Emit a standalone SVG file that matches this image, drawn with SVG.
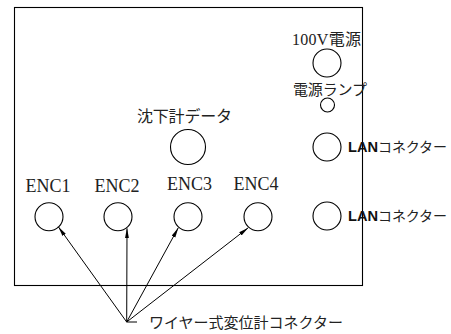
<svg xmlns="http://www.w3.org/2000/svg" width="451" height="334" viewBox="0 0 451 334">
<style>
.c{fill:none;stroke:#000;stroke-width:1.1}
.t{font-family:'Liberation Serif','Times New Roman','DejaVu Serif','Noto Sans CJK JP',serif;font-size:16px;fill:#222}
.j{font-family:'Liberation Serif','Noto Sans CJK JP',serif;font-size:14px;fill:#222}
.e{font-family:'Liberation Serif','Times New Roman','DejaVu Serif',serif;font-size:18px;fill:#222;text-anchor:middle}
.l{font-family:'Liberation Sans',Arial,sans-serif;font-size:15px;font-weight:bold;fill:#111}
.a{stroke:#000;stroke-width:1;fill:none;marker-end:url(#ah)}
</style>
<defs>
<marker id="ah" markerWidth="10" markerHeight="5" refX="10" refY="2.5" orient="auto" markerUnits="userSpaceOnUse">
<path d="M0,0.5 L10,2.5 L0,4.5 Z" fill="#000"/>
</marker>
</defs>
<rect id="panel" x="14.5" y="7.5" width="348" height="278" fill="none" stroke="#000" stroke-width="1.1"/>
<g id="power">
<text class="t" x="292" y="45" textLength="69">100V電源</text>
<circle class="c" cx="327" cy="63" r="14"/>
</g>
<g id="lamp">
<text class="t" x="293" y="95" textLength="74" style="font-size:15px">電源ランプ</text>
<circle class="c" cx="327.5" cy="105" r="7"/>
</g>
<g id="lan1">
<circle class="c" cx="327" cy="147" r="14"/>
<text class="l" x="348" y="152" textLength="30" lengthAdjust="spacingAndGlyphs">LAN</text>
<text class="j" x="378" y="152" textLength="69">コネクター</text>
</g>
<g id="lan2">
<circle class="c" cx="327" cy="216" r="14"/>
<text class="l" x="348" y="221" textLength="30" lengthAdjust="spacingAndGlyphs">LAN</text>
<text class="j" x="378" y="221" textLength="69">コネクター</text>
</g>
<g id="data">
<text class="t" x="137" y="122" textLength="95">沈下計データ</text>
<circle class="c" cx="188" cy="147" r="17.5"/>
</g>
<g id="enc1">
<text class="e" x="48" y="192">ENC1</text>
<circle class="c" cx="49" cy="216.7" r="14"/>
</g>
<g id="enc2">
<text class="e" x="117" y="192">ENC2</text>
<circle class="c" cx="118" cy="216.7" r="14"/>
</g>
<g id="enc3">
<text class="e" x="189.5" y="190">ENC3</text>
<circle class="c" cx="188" cy="216.7" r="14"/>
</g>
<g id="enc4">
<text class="e" x="256" y="190">ENC4</text>
<circle class="c" cx="258" cy="216.7" r="14"/>
</g>
<g id="connectors">
<line class="a" x1="126.7" y1="322" x2="58.3" y2="226.7"/>
<line class="a" x1="126.7" y1="322" x2="127" y2="228.3"/>
<line class="a" x1="126.7" y1="322" x2="178.3" y2="227.7"/>
<line class="a" x1="126.7" y1="322" x2="248.3" y2="227.7"/>
<line x1="126.7" y1="322" x2="137" y2="322" stroke="#000" stroke-width="1"/>
</g>
<g id="wire-label">
<text class="t" x="149" y="328" textLength="194" style="font-size:15px">ワイヤー式変位計コネクター</text>
</g>
</svg>
